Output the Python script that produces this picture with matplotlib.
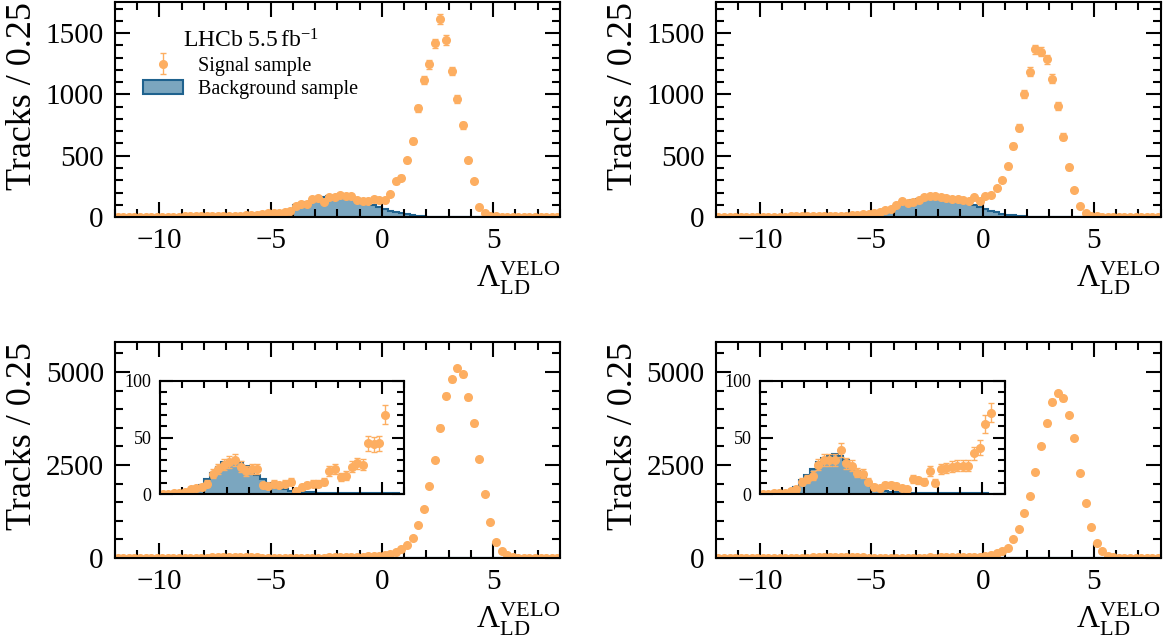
import matplotlib

matplotlib.use("Agg")
import matplotlib.pyplot as plt
import numpy as np
from matplotlib.patches import Patch
from matplotlib.ticker import MultipleLocator

plt.rcParams["font.family"] = ["Liberation Serif", "DejaVu Serif"]
plt.rcParams["mathtext.fontset"] = "custom"
plt.rcParams["mathtext.rm"] = "Liberation Serif"
plt.rcParams["mathtext.it"] = "Liberation Serif:italic"
plt.rcParams["mathtext.bf"] = "Liberation Serif:bold"

SIGNAL_COLOR = "#fdae61"
BKG_FACE = "#7ba6bf"
BKG_EDGE = "#1f628e"

# 80 bins of width 0.25 from -12 to 8
bin_edges = np.linspace(-12, 8, 81)
bin_centers = 0.5 * (bin_edges[1:] + bin_edges[:-1])

# top left
sig_tl = [2, 2, 2, 2, 3, 3, 3, 3, 3, 4, 4, 4, 5, 5, 5, 6, 6, 7, 7, 8, 9, 10, 11, 13,
          16, 19, 22, 30, 35, 35, 44, 52, 90, 106, 106, 144, 152, 125, 166, 166,
          180, 171, 171, 139, 131, 131, 147, 139, 139, 185, 290, 321, 462, 617, 887, 1118,
          1245, 1417, 1613, 1444, 1193, 963, 748, 462, 291, 79, 35, 12, 6, 4,
          3, 3, 2, 2, 2, 1, 1, 1, 1, 1]
bkg_tl = [0, 0, 0, 0, 0, 0, 0, 0, 0, 1, 1, 1, 1, 1, 2, 2, 2, 3, 3, 4, 5, 6, 7, 9,
          11, 13, 16, 20, 25, 31, 39, 50, 95, 108, 120, 135, 150, 160, 168, 174,
          176, 172, 163, 150, 135, 118, 100, 82, 66, 52, 40, 30, 22, 15, 10, 6,
          4, 2, 1, 1, 0, 0, 0, 0, 0, 0, 0, 0, 0, 0,
          0, 0, 0, 0, 0, 0, 0, 0, 0, 0]

# top right
sig_tr = [2, 2, 2, 2, 2, 3, 3, 3, 3, 3, 4, 4, 4, 5, 5, 5, 6, 6, 7, 7, 8, 9, 10, 12,
          14, 18, 22, 28, 35, 44, 57, 63, 98, 133, 117, 125, 139, 166, 174, 171,
          166, 158, 147, 147, 139, 131, 160, 133, 168, 177, 240, 302, 416, 579, 729, 1004,
          1186, 1368, 1349, 1287, 1129, 906, 656, 405, 220, 90, 30, 10, 5, 4,
          3, 3, 2, 2, 2, 1, 1, 1, 1, 1]
bkg_tr = [0, 0, 0, 0, 0, 0, 0, 0, 0, 1, 1, 1, 1, 1, 2, 2, 2, 3, 3, 4, 5, 6, 7, 9,
          12, 14, 17, 21, 26, 32, 40, 52, 98, 110, 122, 135, 148, 160, 168, 172,
          172, 167, 158, 146, 132, 115, 98, 80, 64, 50, 38, 28, 20, 14, 9, 6,
          4, 2, 1, 1, 0, 0, 0, 0, 0, 0, 0, 0, 0, 0,
          0, 0, 0, 0, 0, 0, 0, 0, 0, 0]

# bottom left
sig_bl = [0, 0, 0, 0, 0, 0, 0, 0, 0, 0, 1, 1, 2, 4, 5, 6, 9, 18, 22, 26, 28, 30, 24, 20,
          22, 22, 8, 7, 9, 8, 9, 11, 3, 6, 8, 9, 9, 11, 20, 22,
          15, 16, 24, 27, 26, 45, 44, 45, 70, 115, 160, 233, 349, 529, 887, 1308,
          1944, 2634, 3503, 4363, 4803, 5099, 4937, 4319, 3620, 2653, 1711, 977, 439, 188,
          81, 30, 12, 5, 2, 1, 0, 0, 0, 0]
bkg_bl = [0, 0, 0, 0, 0, 0, 0, 0, 0.5, 0.8, 1.2, 1.8, 2.5, 3.5, 5, 8, 13, 19, 24, 28, 30, 30, 28, 25,
          21, 17, 13, 10, 7.5, 5.5, 4, 3, 2.5, 2, 1.8, 1.5, 1.3, 1.2, 1.1, 1.0,
          1.0, 0.9, 0.9, 0.8, 0.8, 0.7, 0.7, 0.6, 0.6, 0.5, 0.5, 0.4, 0.4, 0.3, 0.3, 0.2,
          0.2, 0.1, 0.1, 0.1, 0, 0, 0, 0, 0, 0, 0, 0, 0, 0,
          0, 0, 0, 0, 0, 0, 0, 0, 0, 0]

# bottom right
sig_br = [0, 0, 0, 0, 0, 0, 0, 0, 0, 0, 1, 1, 1, 3, 4, 11, 13, 16, 26, 30, 30, 30, 39, 27,
          25, 19, 18, 11, 6, 5, 8, 8, 7, 5, 4, 13, 12, 11, 20, 10,
          22, 23, 24, 25, 25, 25, 36, 41, 62, 72, 125, 188, 260, 502, 780, 1201,
          1675, 2303, 3019, 3620, 4202, 4427, 4293, 3844, 3217, 2276, 1487, 842, 394, 188,
          60, 25, 10, 4, 2, 1, 0, 0, 0, 0]
bkg_br = [0, 0, 0, 0, 0, 0, 0, 0, 0.3, 0.5, 0.8, 1.2, 1.8, 2.5, 6, 12, 17, 22, 28, 32, 34, 35, 34, 30,
          25, 20, 15, 10.5, 7, 4.5, 3, 2.2, 1.8, 1.5, 1.3, 1.2, 1.1, 1.0, 1.0, 0.9,
          0.9, 0.8, 0.8, 0.7, 0.7, 0.6, 0.6, 0.5, 0.5, 0.4, 0.4, 0.3, 0.3, 0.2, 0.2, 0.1,
          0.1, 0.1, 0, 0, 0, 0, 0, 0, 0, 0, 0, 0, 0, 0,
          0, 0, 0, 0, 0, 0, 0, 0, 0, 0]


def style_axes(ax, major_len, minor_len, labelsize, pad):
    ax.tick_params(which="both", direction="in", top=True, right=True, width=1.5)
    ax.tick_params(which="major", length=major_len, labelsize=labelsize, pad=pad)
    ax.tick_params(which="minor", length=minor_len)
    for spine in ax.spines.values():
        spine.set_linewidth(1.5)


def draw_samples(ax, sig, bkg):
    sig = np.asarray(sig, dtype=float)
    ax.hist(bin_centers, bins=bin_edges, weights=bkg, histtype="stepfilled",
            facecolor=BKG_FACE, edgecolor=BKG_EDGE, linewidth=1.5, zorder=1)
    # Poisson errors on the signal counts
    return ax.errorbar(bin_centers, sig, yerr=np.sqrt(sig), fmt="o", color=SIGNAL_COLOR,
                       ms=5.5, elinewidth=1, capsize=2.5, capthick=1, zorder=2)


def main_panel(rect, sig, bkg, ymax, ymajor, yminor):
    ax = fig.add_axes(rect)
    handle = draw_samples(ax, sig, bkg)
    ax.set_xlim(-12, 8)
    ax.set_ylim(0, ymax)
    ax.xaxis.set_major_locator(MultipleLocator(5))
    ax.xaxis.set_minor_locator(MultipleLocator(1))
    ax.yaxis.set_major_locator(MultipleLocator(ymajor))
    ax.yaxis.set_minor_locator(MultipleLocator(yminor))
    style_axes(ax, 11, 6, 21, 8)
    ax.set_ylabel("Tracks / 0.25", fontsize=26, loc="top")
    ax.yaxis.set_label_coords(-0.17, 1.0)
    ax.set_xlabel(r"$\Lambda_{\mathrm{LD}}^{\mathrm{VELO}}$", fontsize=23, loc="right")
    return ax, handle


def inset_panel(rect, sig, bkg):
    ax = fig.add_axes(rect)
    draw_samples(ax, sig, bkg)
    ax.set_xlim(-10, 1)
    ax.set_ylim(0, 100)
    ax.xaxis.set_major_locator(MultipleLocator(5))
    ax.xaxis.set_minor_locator(MultipleLocator(1))
    ax.yaxis.set_major_locator(MultipleLocator(50))
    ax.yaxis.set_minor_locator(MultipleLocator(10))
    style_axes(ax, 9, 5, 13, 6)
    ax.set_xticklabels([])
    return ax


fig = plt.figure(figsize=(11.72, 6.44), dpi=100)

ax_tl, sig_handle = main_panel([0.0981, 0.6630, 0.3797, 0.3339], sig_tl, bkg_tl, 1754, 500, 100)
ax_tr, _ = main_panel([0.6106, 0.6630, 0.3797, 0.3339], sig_tr, bkg_tr, 1754, 500, 100)
ax_bl, _ = main_panel([0.0981, 0.1335, 0.3797, 0.3359], sig_bl, bkg_bl, 5814, 2500, 500)
ax_br, _ = main_panel([0.6106, 0.1335, 0.3797, 0.3359], sig_br, bkg_br, 5814, 2500, 500)

inset_panel([0.1365, 0.2329, 0.2086, 0.1755], sig_bl, bkg_bl)
inset_panel([0.6485, 0.2329, 0.2086, 0.1755], sig_br, bkg_br)

# legend on the first panel
bkg_handle = Patch(facecolor=BKG_FACE, edgecolor=BKG_EDGE, linewidth=1.5)
ax_tl.legend([sig_handle, bkg_handle], ["Signal sample", "Background sample"],
             title=r"LHCb 5.5$\,$fb$^{-1}$", title_fontsize=17, fontsize=14.5,
             loc="upper left", bbox_to_anchor=(0.04, 0.92), frameon=False,
             borderpad=0, handlelength=2.0, handletextpad=0.75, labelspacing=0.2)

fig.savefig("out.png", dpi=100)
